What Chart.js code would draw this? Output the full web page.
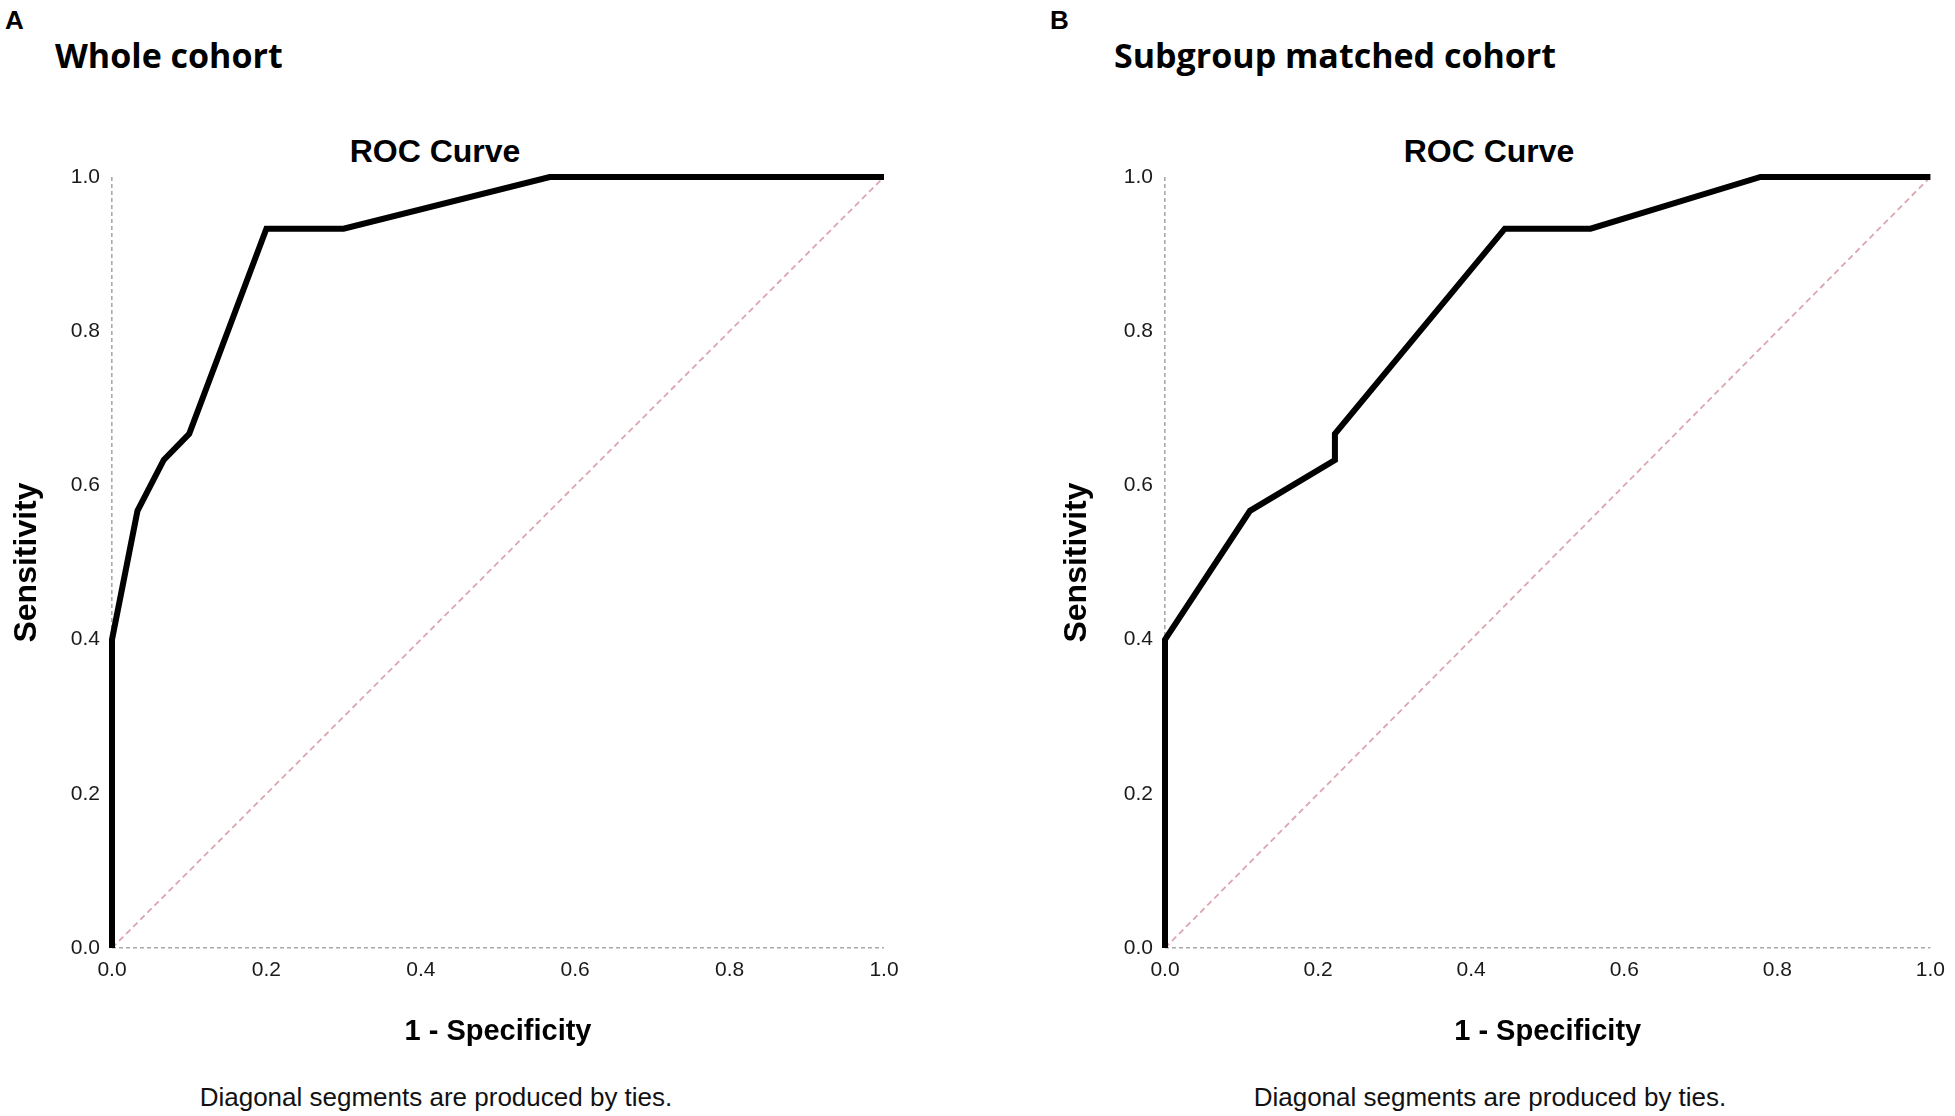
<!DOCTYPE html>
<html>
<head>
<meta charset="utf-8">
<script src="https://cdn.jsdelivr.net/npm/chart.js@4"></script>
<style>
  html, body { margin: 0; padding: 0; background: #fff; }
  #page { position: relative; width: 1955px; height: 1116px; overflow: hidden; }
  .txt { position: absolute; white-space: nowrap; line-height: 1; color: #000; }
  .letter { font: bold 26px "Liberation Sans", Arial, sans-serif; }
  .panel { font: bold 34px "Open Sans", sans-serif; }
  .roc { font: bold 32px "Liberation Sans", Arial, sans-serif; text-align: center; width: 400px; }
  .note { font: 26px "Liberation Sans", Arial, sans-serif; text-align: center; width: 600px; color: #111; }
  canvas { position: absolute; top: 0; }
</style>
</head>
<body>
<div id="page">
  <div class="txt letter" style="left:5px; top:5px;">A</div>
  <div class="txt panel" style="left:55px; top:32px;">Whole cohort</div>
  <div class="txt roc" style="left:235px; top:133px;">ROC Curve</div>
  <div class="txt note" style="left:136px; top:1082px;">Diagonal segments are produced by ties.</div>

  <div class="txt letter" style="left:1050px; top:5px;">B</div>
  <div class="txt panel" style="left:1114px; top:32px;">Subgroup matched cohort</div>
  <div class="txt roc" style="left:1289px; top:133px;">ROC Curve</div>
  <div class="txt note" style="left:1190px; top:1082px;">Diagonal segments are produced by ties.</div>

  <div style="position:absolute; left:0; top:0; width:977px; height:1116px;"><canvas id="chartA"></canvas></div>
  <div style="position:absolute; left:977px; top:0; width:978px; height:1116px;"><canvas id="chartB"></canvas></div>
</div>

<script>
// 1 - specificity / sensitivity, panel A (whole cohort)
var fprA = [0, 0, 0.033, 0.067, 0.1, 0.2, 0.3, 0.567, 1.0];
var tprA = [0, 0.4, 0.567, 0.633, 0.667, 0.933, 0.933, 1.0, 1.0];

// panel B (subgroup matched cohort)
var fprB = [0, 0, 0.111, 0.222, 0.222, 0.444, 0.556, 0.778, 1.0];
var tprB = [0, 0.4, 0.567, 0.633, 0.667, 0.933, 0.933, 1.0, 1.0];

// reference line
var refX = [0, 1];
var refY = [0, 1];

var tickValues = [0, 0.2, 0.4, 0.6, 0.8, 1.0];

function points (xs, ys) {
    var out = [];
    for (var i = 0; i < xs.length; i++) out.push({x: xs[i], y: ys[i]});
    return out;
}

// only the grid line at 0 is shown, dashed, so it acts as the axis line
var zeroGrid = {
    display: true,
    drawTicks: false,
    lineWidth: 1.6,
    color: function (c) { return c.tick && c.tick.value === 0 ? '#a9a9a9' : 'rgba(0,0,0,0)'; }
};
var noBorder = {display: false, dash: [4, 3]};
var tickFont = {family: '"Liberation Sans", Arial, sans-serif', size: 21};

function makeChart (id, fpr, tpr, pad, yWidth) {
    var ctx = document.getElementById(id).getContext('2d');
    return new Chart(ctx, {
        type: 'scatter',
        data: {
            datasets: [{
                data: points(fpr, tpr),
                showLine: true,
                borderColor: '#000',
                borderWidth: 6,
                borderJoinStyle: 'miter',
                pointRadius: 0,
                clip: false
            }, {
                data: points(refX, refY),
                showLine: true,
                borderColor: '#dca6b0',
                borderWidth: 1.8,
                borderDash: [6, 4],
                pointRadius: 0
            }]
        },
        options: {
            responsive: true,
            maintainAspectRatio: false,
            animation: false,
            events: [],
            layout: {padding: pad},
            plugins: {legend: {display: false}, tooltip: {enabled: false}},
            scales: {
                x: {
                    type: 'linear', min: 0, max: 1,
                    afterBuildTicks: function (s) { s.ticks = tickValues.map(function (v) { return {value: v}; }); },
                    afterFit: function (s) { s.height = 101.4; },
                    grid: zeroGrid,
                    border: noBorder,
                    ticks: {padding: 10, color: '#1a1a1a', font: tickFont, maxRotation: 0,
                        callback: function (v) { return v.toFixed(1); }},
                    title: {display: true, text: '1 - Specificity', color: '#000', padding: 0,
                        font: {family: '"Liberation Sans", Arial, sans-serif', size: 29, weight: 'bold'}}
                },
                y: {
                    type: 'linear', min: 0, max: 1,
                    afterBuildTicks: function (s) { s.ticks = tickValues.map(function (v) { return {value: v}; }); },
                    afterFit: function (s) { s.width = yWidth; },
                    grid: zeroGrid,
                    border: noBorder,
                    ticks: {padding: 12, color: '#1a1a1a', font: tickFont,
                        callback: function (v) { return v.toFixed(1); }},
                    title: {display: true, text: 'Sensitivity', color: '#000', padding: 0,
                        font: {family: '"Liberation Sans", Arial, sans-serif', size: 32, weight: 'bold'}}
                }
            }
        }
    });
}

makeChart('chartA', fprA, tprA, {left: 8, right: 93, top: 177, bottom: 66.6}, 104);
makeChart('chartB', fprB, tprB, {left: 81, right: 18, top: 177, bottom: 66.6}, 107);
</script>
</body>
</html>
